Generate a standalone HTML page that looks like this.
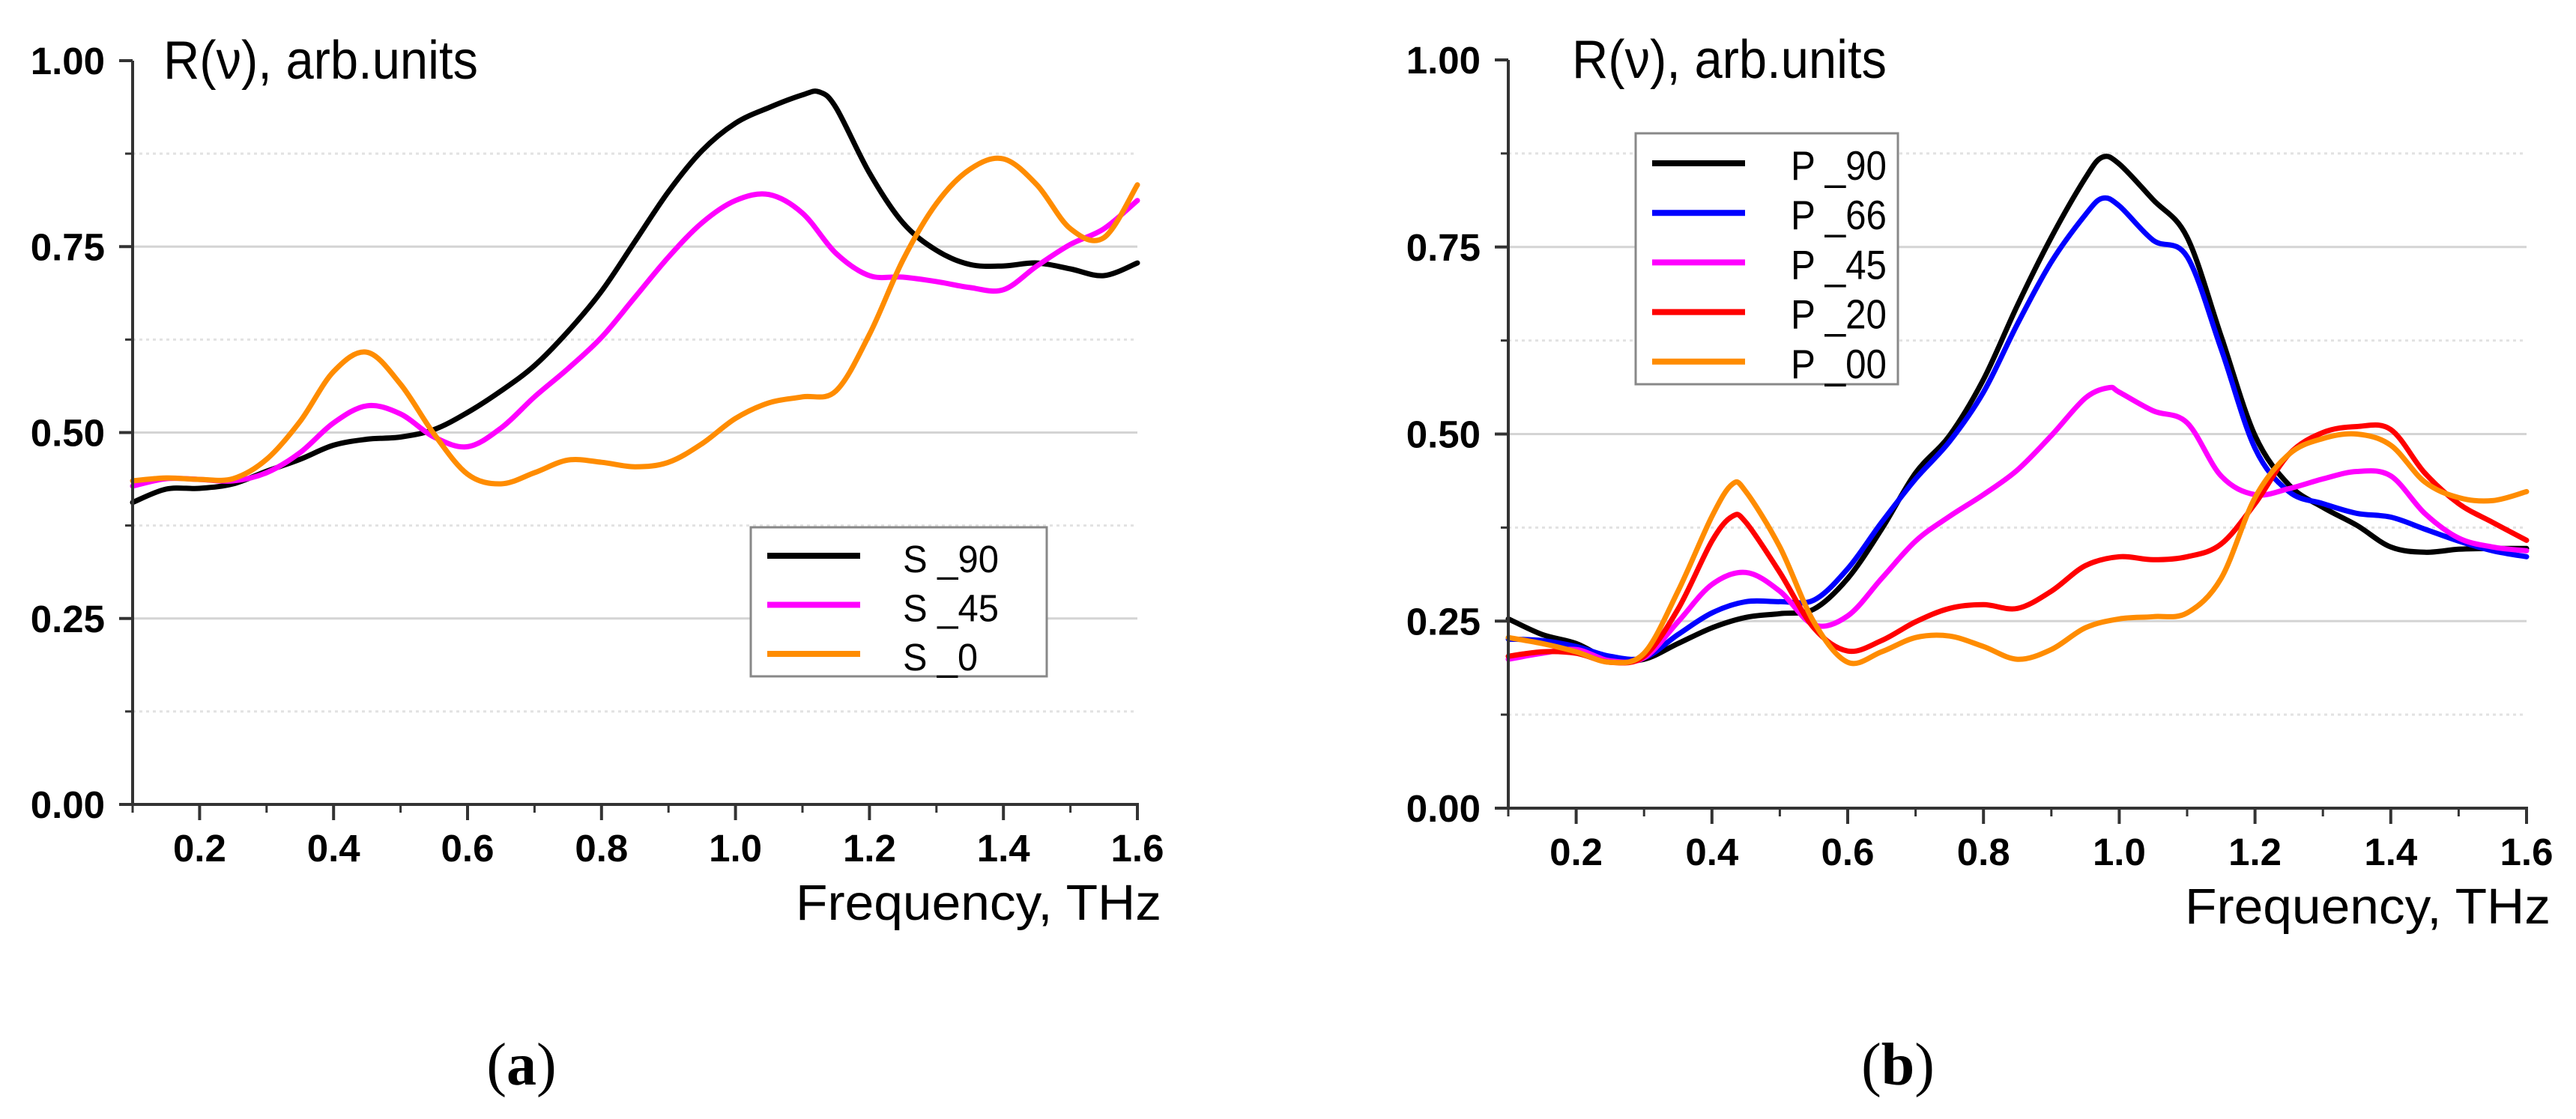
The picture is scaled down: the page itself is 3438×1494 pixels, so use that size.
<!DOCTYPE html>
<html><head><meta charset="utf-8"><style>
html,body{margin:0;padding:0;background:#fff;}
svg{display:block;}
text{font-family:"Liberation Sans",Arial,sans-serif;}
</style></head><body>
<svg id="fig" width="3438" height="1494" viewBox="0 0 3438 1494" xmlns="http://www.w3.org/2000/svg">
<g id="chartA"></g>
<g id="chartB"></g>
<text x="696" y="1448" text-anchor="middle" font-size="80" style="font-family:'Liberation Serif',serif">(<tspan font-weight="bold">a</tspan>)</text>
<text x="2533" y="1448" text-anchor="middle" font-size="80" style="font-family:'Liberation Serif',serif">(<tspan font-weight="bold">b</tspan>)</text>
</svg>
<script>
const xTicks = [0.2,0.4,0.6,0.8,1.0,1.2,1.4,1.6];
const xTickLabels = ["0.2","0.4","0.6","0.8","1.0","1.2","1.4","1.6"];
const yTicks = [0,0.25,0.5,0.75,1.0];
const yTickLabels = ["0.00","0.25","0.50","0.75","1.00"];

const xA = [0.10,0.15,0.20,0.25,0.30,0.35,0.40,0.45,0.50,0.55,0.60,0.65,0.70,0.75,0.80,0.85,0.90,0.95,1.00,1.05,1.10,1.125,1.15,1.20,1.25,1.30,1.35,1.40,1.45,1.50,1.55,1.60];
const s90 = [0.406,0.424,0.425,0.431,0.448,0.464,0.483,0.491,0.494,0.504,0.527,0.556,0.590,0.636,0.690,0.757,0.824,0.879,0.916,0.937,0.954,0.958,0.937,0.849,0.782,0.745,0.726,0.724,0.728,0.720,0.711,0.728];
const xA2 = [0.10,0.15,0.20,0.25,0.30,0.35,0.40,0.45,0.50,0.55,0.60,0.65,0.70,0.75,0.80,0.85,0.90,0.95,1.00,1.05,1.10,1.15,1.20,1.25,1.30,1.35,1.40,1.45,1.50,1.55,1.60];
const s45 = [0.428,0.438,0.437,0.435,0.446,0.473,0.513,0.536,0.525,0.494,0.481,0.506,0.548,0.586,0.628,0.682,0.736,0.782,0.812,0.820,0.795,0.741,0.711,0.709,0.703,0.695,0.692,0.724,0.753,0.774,0.812];
const s0 = [0.435,0.439,0.437,0.438,0.464,0.515,0.582,0.608,0.565,0.498,0.444,0.431,0.446,0.463,0.460,0.454,0.460,0.485,0.519,0.540,0.548,0.556,0.632,0.732,0.808,0.854,0.868,0.833,0.774,0.762,0.833];

const xB = [0.10,0.15,0.20,0.25,0.30,0.35,0.40,0.45,0.50,0.55,0.60,0.65,0.70,0.75,0.80,0.85,0.90,0.95,0.975,1.00,1.05,1.10,1.15,1.20,1.25,1.30,1.35,1.40,1.45,1.50,1.55,1.60];
const p90 = [0.253,0.232,0.220,0.199,0.199,0.220,0.241,0.255,0.260,0.266,0.307,0.373,0.448,0.498,0.573,0.672,0.763,0.842,0.870,0.861,0.813,0.763,0.631,0.498,0.432,0.402,0.378,0.349,0.342,0.346,0.347,0.347];
const p66 = [0.226,0.224,0.216,0.203,0.201,0.232,0.261,0.276,0.276,0.278,0.320,0.382,0.440,0.490,0.556,0.647,0.730,0.793,0.815,0.805,0.759,0.737,0.614,0.481,0.423,0.407,0.394,0.389,0.373,0.357,0.344,0.336];
const xB45 = [0.10,0.15,0.20,0.25,0.30,0.35,0.40,0.45,0.50,0.55,0.60,0.65,0.70,0.75,0.80,0.85,0.90,0.95,0.985,1.00,1.05,1.10,1.15,1.20,1.25,1.30,1.35,1.40,1.45,1.50,1.55,1.60];
const p45 = [0.199,0.207,0.212,0.197,0.201,0.249,0.299,0.315,0.290,0.245,0.257,0.307,0.357,0.390,0.419,0.452,0.498,0.548,0.562,0.556,0.531,0.515,0.444,0.419,0.427,0.440,0.450,0.444,0.394,0.361,0.349,0.344];
const xB2 = [0.10,0.15,0.20,0.25,0.30,0.35,0.40,0.43,0.45,0.50,0.55,0.60,0.65,0.70,0.75,0.80,0.85,0.90,0.95,1.00,1.05,1.10,1.15,1.20,1.25,1.30,1.35,1.40,1.45,1.50,1.55,1.60];
const p20 = [0.203,0.209,0.207,0.195,0.203,0.266,0.357,0.390,0.382,0.315,0.241,0.210,0.224,0.249,0.267,0.272,0.267,0.290,0.324,0.336,0.332,0.336,0.353,0.407,0.473,0.502,0.510,0.506,0.448,0.407,0.382,0.358];
const p00 = [0.228,0.220,0.209,0.195,0.207,0.290,0.390,0.433,0.423,0.349,0.249,0.195,0.209,0.228,0.230,0.216,0.199,0.212,0.241,0.253,0.256,0.261,0.307,0.415,0.473,0.494,0.500,0.485,0.436,0.415,0.411,0.423];

const seriesA = [
  {name:"S _90", x:xA, y:s90, color:"#000000", tl:128},
  {name:"S _45", x:xA2, y:s45, color:"#ff00ff", tl:128},
  {name:"S _0", x:xA2, y:s0, color:"#ff8c00", tl:100}
];
const seriesB = [
  {name:"P _90", x:xB, y:p90, color:"#000000", tl:128},
  {name:"P _66", x:xB, y:p66, color:"#0000ff", tl:128},
  {name:"P _45", x:xB45, y:p45, color:"#ff00ff", tl:128},
  {name:"P _20", x:xB2, y:p20, color:"#ff0000", tl:128},
  {name:"P _00", x:xB2, y:p00, color:"#ff8c00", tl:128}
];
const NS="http://www.w3.org/2000/svg";
function mk(parent,tag,attrs,txt){const e=document.createElementNS(NS,tag);for(const k in attrs)e.setAttribute(k,attrs[k]);if(txt!==undefined)e.textContent=txt;parent.appendChild(e);return e;}
function smooth(pts){let d="M"+pts[0][0].toFixed(1)+","+pts[0][1].toFixed(1);for(let i=0;i<pts.length-1;i++){const p0=pts[i-1]||pts[i],p1=pts[i],p2=pts[i+1],p3=pts[i+2]||p2;const c1=[p1[0]+(p2[0]-p0[0])/6,p1[1]+(p2[1]-p0[1])/6];const c2=[p2[0]-(p3[0]-p1[0])/6,p2[1]-(p3[1]-p1[1])/6];d+="C"+c1[0].toFixed(1)+","+c1[1].toFixed(1)+" "+c2[0].toFixed(1)+","+c2[1].toFixed(1)+" "+p2[0].toFixed(1)+","+p2[1].toFixed(1);}return d;}

function drawChart(g,cfg,series){
  const X=v=>cfg.x0+(v-0.1)/(1.5)*(cfg.x1-cfg.x0);
  const Y=v=>cfg.y0-v*(cfg.y0-cfg.y1);
  [0.25,0.5,0.75].forEach(v=>{const l=mk(g,"line",{x1:cfg.x0,x2:cfg.x1,y1:Y(v),y2:Y(v),stroke:"#d4d4d4","stroke-width":3});
    
    });
  [0.125,0.375,0.625,0.875].forEach(v=>{const l=mk(g,"line",{x1:cfg.x0,x2:cfg.x1,y1:Y(v),y2:Y(v),stroke:"#e2e2e2","stroke-width":3,"stroke-dasharray":"4,5"});
    
    });
  series.forEach(s=>{const pts=s.x.map((xv,i)=>[X(xv),Y(s.y[i])]);
    const p=mk(g,"path",{d:smooth(pts),fill:"none",stroke:s.color,"stroke-width":7,"stroke-linejoin":"round","stroke-linecap":"round"});
    
    });
  const ax=mk(g,"line",{x1:cfg.x0,x2:cfg.x0,y1:cfg.y1,y2:cfg.y0+2,stroke:"#333","stroke-width":4});
  
  
  const axx=mk(g,"line",{x1:cfg.x0-18,x2:cfg.x1+2,y1:cfg.y0,y2:cfg.y0,stroke:"#333","stroke-width":4});
  
  
  yTicks.forEach((v,i)=>{mk(g,"line",{x1:cfg.x0-18,x2:cfg.x0,y1:Y(v),y2:Y(v),stroke:"#333","stroke-width":4});
    const t=mk(g,"text",{x:cfg.x0-37,y:Y(v)+18,"text-anchor":"end","font-size":51,"font-weight":"bold"},yTickLabels[i]);
    
    });
  [0.125,0.375,0.625,0.875].forEach(v=>mk(g,"line",{x1:cfg.x0-10,x2:cfg.x0,y1:Y(v),y2:Y(v),stroke:"#333","stroke-width":3}));
  [0.1,0.3,0.5,0.7,0.9,1.1,1.3,1.5].forEach(v=>mk(g,"line",{x1:X(v),x2:X(v),y1:cfg.y0,y2:cfg.y0+11,stroke:"#333","stroke-width":3}));
  xTicks.forEach((v,i)=>{mk(g,"line",{x1:X(v),x2:X(v),y1:cfg.y0,y2:cfg.y0+21,stroke:"#333","stroke-width":4});
    const t=mk(g,"text",{x:X(v),y:cfg.y0+76,"text-anchor":"middle","font-size":51,"font-weight":"bold"},xTickLabels[i]);
    
    });
  const tt=mk(g,"text",{x:cfg.tx,y:cfg.y1+24,"font-size":72,textLength:420,lengthAdjust:"spacingAndGlyphs"},"R(\u03bd), arb.units");
  
  
  const xt=mk(g,"text",{x:cfg.x1+32,y:cfg.y0+154,"text-anchor":"end","font-size":67,textLength:488,lengthAdjust:"spacingAndGlyphs"},"Frequency, THz");
  
  
  const L=cfg.leg;
  const lg=mk(g,"g",{});
  
  
  mk(lg,"rect",{x:L.x,y:L.y,width:L.w,height:L.h,fill:"#fff",stroke:"#888","stroke-width":3});
  series.forEach((s,i)=>{const yy=L.ly+i*L.dy;
    const e=mk(lg,"g",{});
    
    
    mk(e,"line",{x1:L.x+22,x2:L.x+146,y1:yy,y2:yy,stroke:s.color,"stroke-width":8});
    mk(e,"text",{x:L.tx,y:yy+L.toff,"font-size":L.fs,textLength:s.tl,lengthAdjust:"spacingAndGlyphs"},s.name);});
}
drawChart(document.getElementById("chartA"),{x0:177,x1:1518,y0:1074,y1:81,tx:218,
  leg:{x:1002,y:704,w:395,h:199,ly:742,dy:65.5,tx:1205,toff:22,fs:51}},seriesA);
drawChart(document.getElementById("chartB"),{x0:2013,x1:3372,y0:1079,y1:80,tx:2098,
  leg:{x:2183,y:178,w:350,h:335,ly:218,dy:66.2,tx:2390,toff:22,fs:55}},seriesB);
</script>
</body></html>
